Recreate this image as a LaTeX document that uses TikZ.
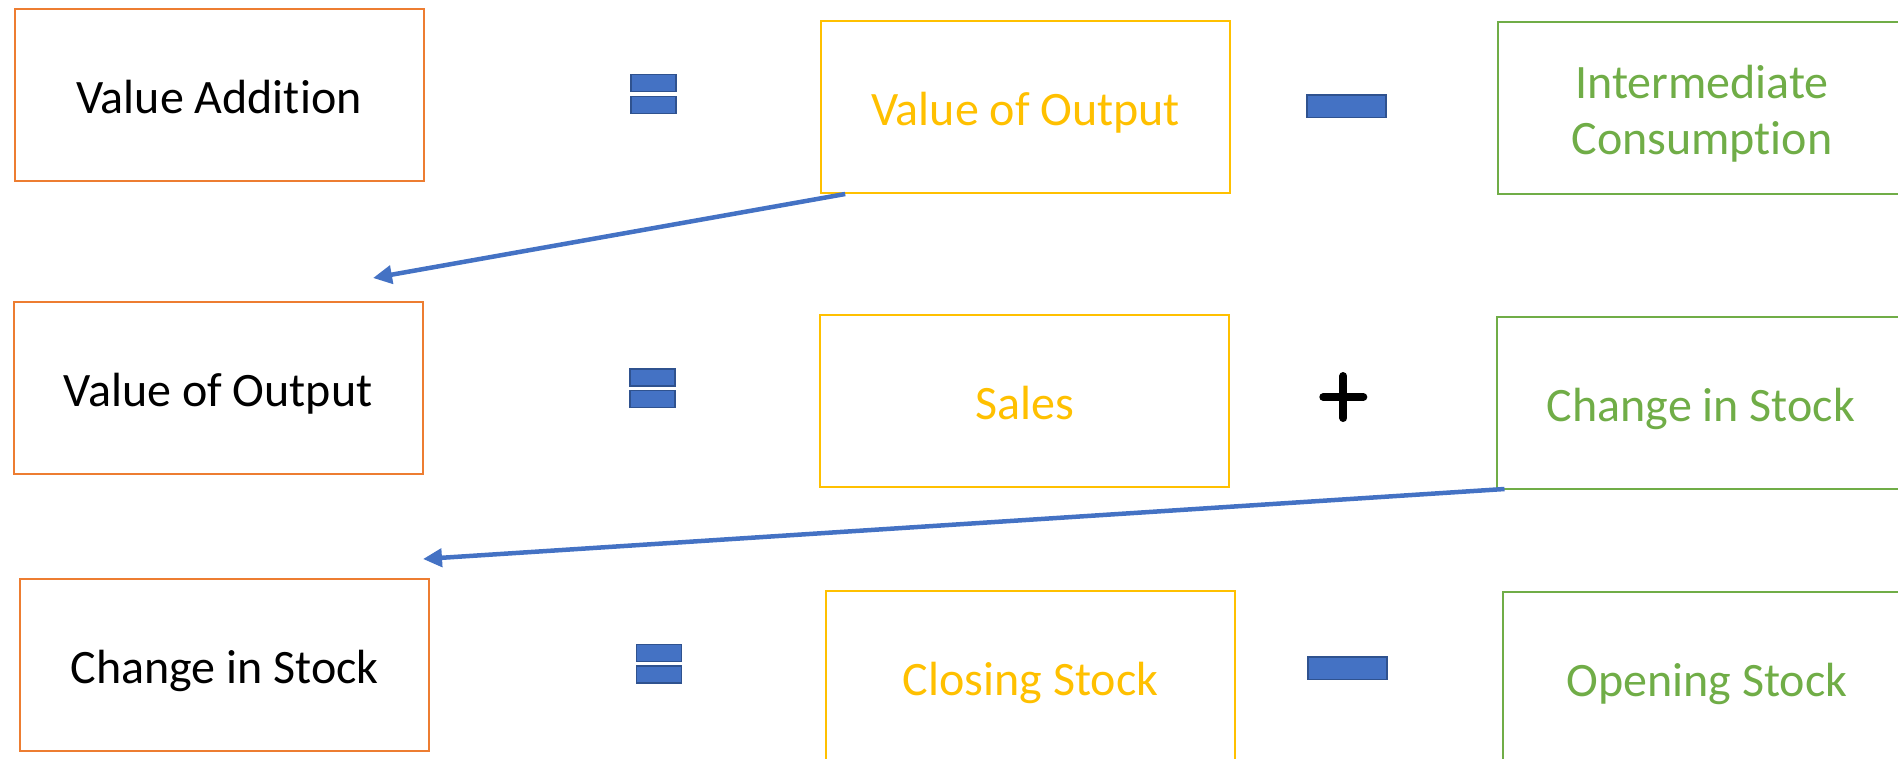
\documentclass[tikz,border=0pt]{standalone}
\usepackage{fontspec}
\setmainfont{Carlito}[RawFeature=-liga]
\usetikzlibrary{arrows.meta}
\definecolor{boxorange}{HTML}{ED7D31}
\definecolor{boxyellow}{HTML}{FFC000}
\definecolor{boxgreen}{HTML}{70AD47}
\definecolor{opblue}{HTML}{4472C4}
\definecolor{opedge}{HTML}{2F528F}
\begin{document}
\begin{tikzpicture}[x=1pt,y=-1pt,
  termbox/.style={draw, line width=2pt, minimum width=409pt, minimum height=172pt,
    inner sep=0pt, align=center, font=\fontsize{48}{56}\selectfont,
    text height=44pt, text depth=7pt},
  lhsbox/.style={termbox, draw=boxorange, text=black},
  firstbox/.style={termbox, draw=boxyellow, text=boxyellow},
  secondbox/.style={termbox, draw=boxgreen, text=boxgreen},
  opbar/.style={draw=opedge, fill=opblue, line width=1.5pt, inner sep=0pt},
  eqbar/.style={opbar, minimum width=45pt, minimum height=17pt},
  minusbar/.style={opbar, minimum width=79pt, minimum height=22.5pt},
  linkarrow/.style={opblue, line width=4.5pt, -{Triangle[length=19pt,width=18pt]}}
]
\useasboundingbox (0,0) rectangle (1898,758);
\clip (0,0) rectangle (1898,758);

% left-hand sides
\node[lhsbox] (va)   at (219,94.5)  {Value Addition};
\node[lhsbox] (vo)   at (218,388)   {Value of Output};
\node[lhsbox] (cs)   at (224.5,664.5) {Change in Stock};

% first terms
\node[firstbox] (out)  at (1025.7,107)   {Value of Output};
\node[firstbox] (sal)  at (1024.7,401.3) {Sales};
\node[firstbox] (clo)  at (1030.7,677)   {Closing Stock};

% second terms (the two-line one hangs from its first baseline)
\node[secondbox, text height=44pt, text depth=63pt] (ic) at (1702,108)
  {\parbox[t]{400pt}{\centering Intermediate\\Consumption}};
\node[secondbox] (chg)  at (1701,402.5) {Change in Stock};
\node[secondbox] (ope)  at (1707,678)   {Opening Stock};

% equals signs
\node[eqbar] (eqa1) at (653.5,83.2) {};
\node[eqbar] (eqa2) at (653.5,105)  {};
\node[eqbar] (eqb1) at (652.5,377.3) {};
\node[eqbar] (eqb2) at (652.5,399.2) {};
\node[eqbar] (eqc1) at (658.8,653)  {};
\node[eqbar] (eqc2) at (658.8,674.6) {};

% minus signs
\node[minusbar] (mi1) at (1346.3,106.3) {};
\node[minusbar] (mi3) at (1347.7,668)   {};

% plus sign
\coordinate (plus) at (1343.3,397);
\draw[black, line width=8pt, line cap=round]
  ([xshift=-20pt]plus) -- ([xshift=20pt]plus)
  ([yshift=-21pt]plus) -- ([yshift=21pt]plus);

% substitution arrows
\coordinate (t1) at (373,278);
\coordinate (t2) at (423,559);
\draw[linkarrow] ([xshift=25pt]out.south west) -- (t1);
\draw[linkarrow] ([xshift=9pt,yshift=0.5pt]chg.south west) -- (t2);
\end{tikzpicture}
\end{document}
